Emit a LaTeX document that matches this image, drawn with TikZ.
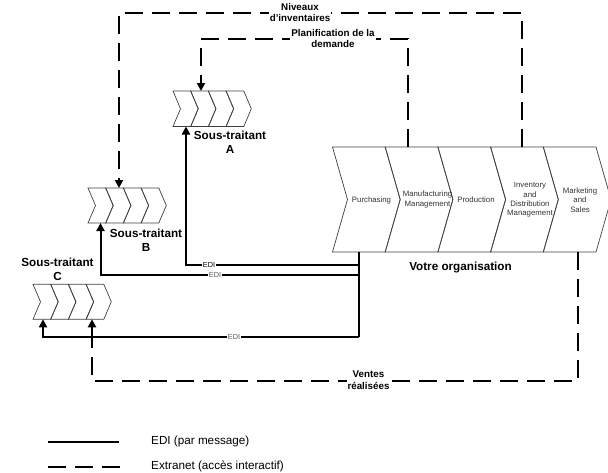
\documentclass[tikz,border=0pt]{standalone}
\usepackage{fontspec}
\setmainfont{Liberation Sans}
\usetikzlibrary{arrows.meta}
\newcommand\chevrow[6]{% x0, ytop, height, width, depth, count
  \foreach \i in {1,...,#6}{%
    \draw[chev] ({#1+(\i-1)*#4},#2) -- ++(#4,0) -- ++(#5,#3/2) -- ++(-#5,#3/2)
      -- ++(-#4,0) -- ++(#5,-#3/2) -- cycle;}}
\begin{document}
\begin{tikzpicture}[x=1pt,y=-1pt,
  chev/.style={draw=black!75, line width=0.7pt, line join=miter},
  edi/.style={line width=2pt, black},
  extra/.style={line width=2.6pt, black, dash pattern=on 18pt off 9pt},
  tip/.style={-{Triangle[length=8pt,width=8pt]}},
  lab/.style={font=\fontsize{11.7}{14}\selectfont\bfseries, align=center, inner sep=0pt},
  flowlab/.style={font=\fontsize{9.8}{11.5}\selectfont\bfseries, align=center, inner sep=1pt, fill=white},
  steptext/.style={font=\fontsize{7.8}{9.3}\selectfont, align=center, text=black!80, inner sep=0pt},
  edilab/.style={font=\fontsize{7.3}{8}\selectfont, fill=white, inner sep=1pt},
  legtext/.style={font=\fontsize{11.7}{14}\selectfont, anchor=west, inner sep=0pt},
]
\useasboundingbox (0,0) rectangle (608,472);

% chevron rows
\chevrow{332.5}{147}{105}{52.7}{15}{5}
\chevrow{173}{91}{35.5}{17.7}{7.5}{4}
\chevrow{88}{188}{35}{17.7}{7.5}{4}
\chevrow{33}{284.3}{35}{17.7}{7.5}{4}

% texts in main chevrons
\node[steptext] (p1) at (371.5,200) {Purchasing};
\node[steptext] (p2) at (427.5,199.5) {Manufacturing\\ Management};
\node[steptext] (p3) at (476,200) {Production};
\node[steptext] (p4) at (530,200) {Inventory\\and\\Distribution\\Management};
\node[steptext] (p5) at (580,200) {Marketing\\and\\Sales};

% subcontractor labels
\node[lab] (la) at (230,142.5) {Sous-traitant\\A};
\node[lab] (lb) at (146,240.5) {Sous-traitant\\B};
\node[lab] (lc) at (57.5,269.5) {Sous-traitant\\C};
\node[lab] (org) at (460.5,267) {Votre organisation};

% anchor coordinates
\coordinate (mTopP) at (408,147);
\coordinate (mTopN) at (522,147);
\coordinate (mBotE) at (359,252);
\coordinate (mBotV) at (578,252);
\coordinate (Atop) at (201,91);
\coordinate (Abot) at (186,126.5);
\coordinate (Btop) at (119,188);
\coordinate (Bbot) at (100.5,223);
\coordinate (Cb1) at (43,319.3);
\coordinate (Cb2) at (92,319.3);
\coordinate (jA) at (359,265);
\coordinate (jB) at (359,275);
\coordinate (jC) at (359,337);
\coordinate (jV) at (92,337);

% extranet (dashed) flows
\draw[extra, tip] (mTopP) -- (408,39) -| (Atop);
\draw[extra, tip] (mTopN) -- (522,13) -| (Btop);
\draw[extra] (mBotV) -- (578,381) -| (jV);

% EDI flows
\draw[edi] (mBotE) -- (jC);
\draw[edi, tip] (jA) -| (Abot);
\draw[edi, tip] (jB) -| (Bbot);
\draw[edi, tip] (jC) -| (Cb1);
\draw[edi, tip] (jV) -- (Cb2);

% flow labels
\node[flowlab] (plan) at (333,38.5) {Planification de la\\demande};
\node[flowlab] (niv) at (300,12.5) {Niveaux\\d'inventaires};
\node[flowlab] (vent) at (368.5,380) {Ventes\\réalisées};
\node[edilab] (e1) at (209,265) {EDI};
\node[edilab, text=black!65] (e2) at (215,275) {EDI};
\node[edilab, text=black!65] (e3) at (234,337) {EDI};

% legend
\coordinate (l1a) at (48,442); \coordinate (l1b) at (119,442);
\coordinate (l2a) at (48,467); \coordinate (l2b) at (120,467);
\draw[edi] (l1a) -- (l1b);
\draw[extra] (l2a) -- (l2b);
\node[legtext] (t1) at (151,441) {EDI (par message)};
\node[legtext] (t2) at (151,466) {Extranet (accès interactif)};
\end{tikzpicture}
\end{document}
